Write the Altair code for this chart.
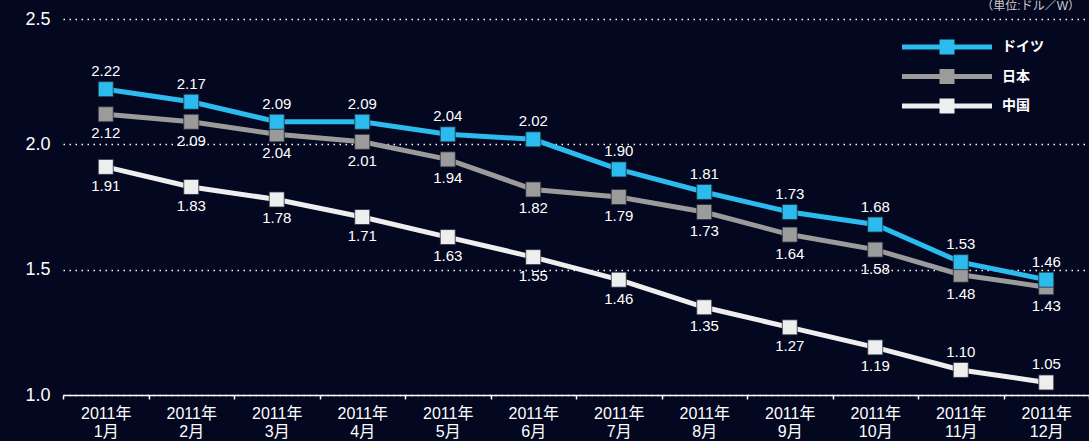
import altair as alt
import pandas as pd

months = ["1月", "2月", "3月", "4月", "5月", "6月", "7月", "8月", "9月", "10月", "11月", "12月"]
germany = [2.22, 2.17, 2.09, 2.09, 2.04, 2.02, 1.90, 1.81, 1.73, 1.68, 1.53, 1.46]
japan = [2.12, 2.09, 2.04, 2.01, 1.94, 1.82, 1.79, 1.73, 1.64, 1.58, 1.48, 1.43]
china = [1.91, 1.83, 1.78, 1.71, 1.63, 1.55, 1.46, 1.35, 1.27, 1.19, 1.10, 1.05]
series_names = ["ドイツ", "日本", "中国"]
colors = ["#2bbbee", "#9b9b9b", "#eeeeee"]
unit_label = "（単位:ドル／W）"

rows = []
for name, vals in [("中国", china), ("日本", japan), ("ドイツ", germany)]:
    for i, (m, v) in enumerate(zip(months, vals)):
        rows.append({"series": name, "month": m, "idx": i, "value": v})
df = pd.DataFrame(rows)

font = "Liberation Sans, Arial, Noto Sans CJK JP, sans-serif"
bg = "#03071f"

x = alt.X(
    "month:N",
    sort=months,
    scale=alt.Scale(type="band", paddingInner=0, paddingOuter=0),
    axis=alt.Axis(
        title=None,
        labelExpr="datum.value ? ['2011年', datum.value] : ''",
        labelAngle=0,
        labelColor="#ffffff",
        labelFontSize=16,
        labelFont=font,
        labelLineHeight=18,
        labelPadding=6,
        labelBaseline="top",
        tickBand="extent",
        tickSize=4,
        tickColor="#ffffff",
        tickWidth=1.5,
        domainColor="#ffffff",
        domainWidth=1.5,
        grid=False,
    ),
)
y = alt.Y(
    "value:Q",
    scale=alt.Scale(domain=[1.0, 2.5], nice=False, zero=False),
    axis=alt.Axis(
        title=None,
        values=[1.0, 1.5, 2.0, 2.5],
        format=".1f",
        grid=True,
        gridDash=[1.5, 4.5],
        gridColor="#ffffff",
        gridWidth=1.3,
        domain=False,
        ticks=False,
        labelFontSize=18,
        labelColor="#ffffff",
        labelFont=font,
        labelPadding=13,
    ),
)
color_scale = alt.Scale(domain=series_names, range=colors)

# symbol: 15px square on a 90px long, 5px thick bar (units of sqrt(size)/2 = 7.5px)
legend_path = ("M-6,-0.333H6V0.333H-6Z "
               "M-1,-1H1V1H-1Z")
legend = alt.Legend(
    title=None, orient="none", legendX=876.5, legendY=20.5,
    symbolType=legend_path, symbolSize=225, symbolStrokeWidth=0,
    symbolOpacity=1,
    labelFontSize=14, labelFontWeight="bold", labelColor="#ffffff",
    labelFont=font, labelOffset=47.5, rowPadding=14.5,
)
color = alt.Color("series:N", scale=color_scale, legend=legend)

base = alt.Chart(df)

lines = base.mark_line(strokeWidth=5).encode(
    x=x, y=y, color=color, detail="series:N",
)

points = base.mark_square(size=225, filled=True, opacity=1, stroke="#2a2d3a", strokeWidth=0.8).encode(
    x=x, y=y, color=color,
)

above_cond = "datum.series == 'ドイツ' || (datum.series == '中国' && datum.idx >= 10)"

labels_above = base.transform_filter(above_cond).mark_text(
    dy=-18, fontSize=15, color="#ffffff", font=font, baseline="middle"
).encode(x=x, y=y, text=alt.Text("value:Q", format=".2f"))

labels_below = base.transform_filter("!(" + above_cond + ")").mark_text(
    dy=19, fontSize=15, color="#ffffff", font=font, baseline="middle"
).encode(x=x, y=y, text=alt.Text("value:Q", format=".2f"))

unit = alt.Chart(pd.DataFrame({"t": [unit_label]})).mark_text(
    align="right", baseline="bottom", fontSize=12, color="#cccccc", font=font
).encode(x=alt.value(1017), y=alt.value(-6), text="t:N")

chart = (
    alt.layer(lines, points, labels_above, labels_below, unit)
    .properties(
        width=1026,
        height=376,
        background=bg,
        autosize=alt.AutoSizeParams(type="none"),
        padding={"left": 63, "top": 19, "right": 0, "bottom": 46},
    )
    .configure_view(stroke=None)
)

chart.save("out.html", embed_options={"renderer": "svg", "actions": False})
